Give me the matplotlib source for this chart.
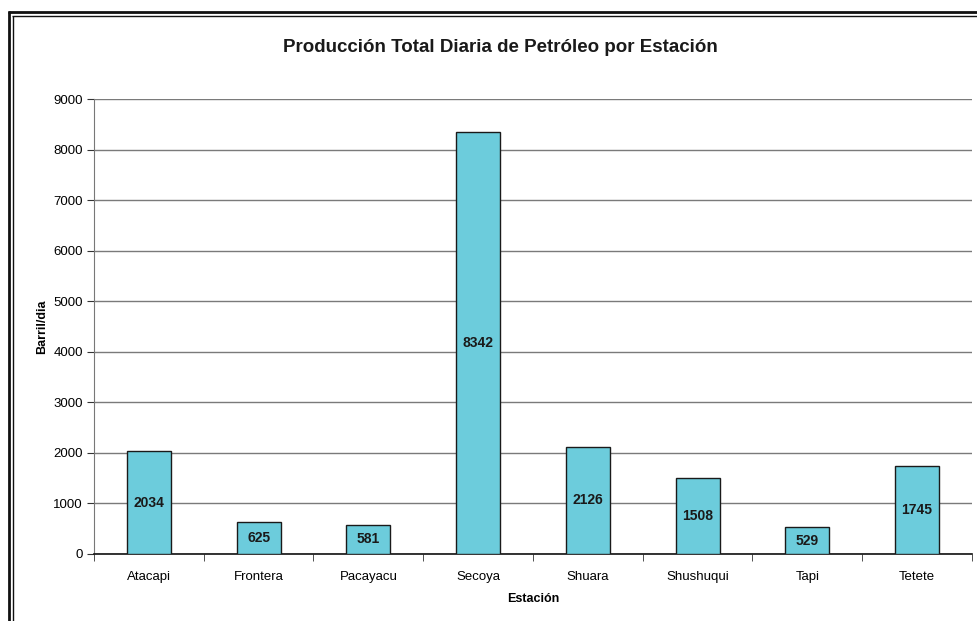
import matplotlib
matplotlib.use("Agg")
import matplotlib.pyplot as plt
from matplotlib.lines import Line2D

plt.rcParams['font.family'] = ['Liberation Sans', 'DejaVu Sans']

estaciones = ["Atacapi", "Frontera", "Pacayacu", "Secoya", "Shuara", "Shushuqui", "Tapi", "Tetete"]
produccion = [2034, 625, 581, 8342, 2126, 1508, 529, 1745]
y_ticks = [0, 1000, 2000, 3000, 4000, 5000, 6000, 7000, 8000, 9000]

W, H = 978, 621
fig = plt.figure(figsize=(W / 100, H / 100), dpi=100)
ax = fig.add_axes([94 / W, 1 - 554 / H, (972 - 94) / W, (554 - 99) / H])

x = list(range(len(estaciones)))
ax.bar(x, produccion, width=0.4, color="#6CCCDC", edgecolor="#1a1a1a",
       linewidth=1.0, zorder=3)
for xi, v in zip(x, produccion):
    ax.text(xi, v / 2, str(v), ha="center", va="center", fontsize=10,
            fontweight="bold", color="#1a1a1a", zorder=4)

ax.set_xlim(-0.5, len(estaciones) - 0.5)
ax.set_ylim(0, 9000)
ax.set_yticks(y_ticks)
ax.set_yticklabels([str(t) for t in y_ticks], fontsize=9.5)
ax.yaxis.grid(True, color="#7a7a7a", linewidth=1.0, zorder=0)
ax.set_axisbelow(True)

ax.set_xticks(x)
ax.set_xticklabels(estaciones, fontsize=9.5)
for lbl in ax.get_xticklabels():
    lbl.set_verticalalignment("baseline")
ax.tick_params(axis="x", length=0, pad=19)
ax.set_xticks([i - 0.5 for i in range(len(estaciones) + 1)], minor=True)
ax.tick_params(axis="x", which="minor", length=5, direction="out", color="#333333")
ax.tick_params(axis="y", length=5, direction="out", color="#333333", pad=3)

for s in ("top", "right"):
    ax.spines[s].set_visible(False)
ax.spines["left"].set_color("#777777")
ax.spines["bottom"].set_color("#111111")
ax.spines["bottom"].set_linewidth(1.2)

ax.set_xlabel("Estación", fontsize=9, fontweight="bold", labelpad=7)
ax.set_ylabel("Barril/dia", fontsize=9, fontweight="bold", labelpad=4)
fig.text(500 / W, 1 - 48 / H, "Producción Total Diaria de Petróleo por Estación",
         ha="center", va="center", fontsize=13.5, fontweight="bold", color="#1a1a1a")

# double frame around the chart (left and top edges)
def px_line(xs, ys, lw):
    fig.add_artist(Line2D([v / W for v in xs], [1 - v / H for v in ys],
                          transform=fig.transFigure, color="#111111",
                          linewidth=lw, solid_capstyle="butt"))

px_line([9, 9], [11, H], 2.0)
px_line([8, W], [12, 12], 2.0)
px_line([13, 13], [15.5, H], 1.0)
px_line([12.5, W], [15.5, 15.5], 1.0)

fig.savefig("out.png", dpi=100)
